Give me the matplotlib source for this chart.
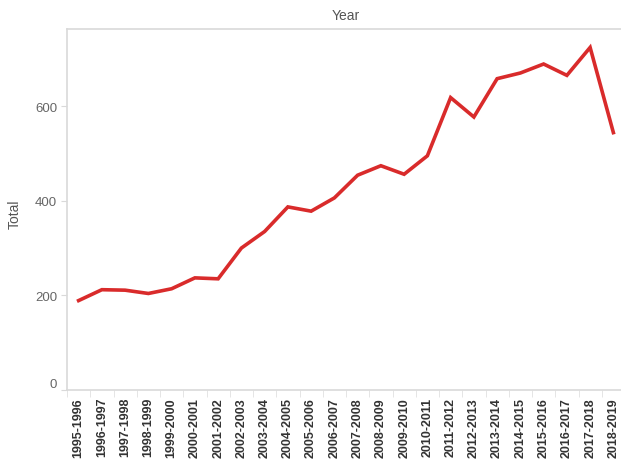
import numpy as np
import matplotlib.pyplot as plt

years = ['1995-1996', '1996-1997', '1997-1998', '1998-1999', '1999-2000', '2000-2001',
         '2001-2002', '2002-2003', '2003-2004', '2004-2005', '2005-2006', '2006-2007',
         '2007-2008', '2008-2009', '2009-2010', '2010-2011', '2011-2012', '2012-2013',
         '2013-2014', '2014-2015', '2015-2016', '2016-2017', '2017-2018', '2018-2019']
total = [189, 212, 211, 204, 214, 237, 235, 300, 335, 387, 378, 406,
         454, 474, 456, 495, 618, 577, 658, 670, 689, 665, 724, 544]

plt.rcParams['font.family'] = ['Liberation Sans', 'DejaVu Sans']

fig = plt.figure(figsize=(6.21, 4.64), dpi=100)
# axes box in pixels: left 67, right ~625 (cut off), top 30, bottom 391
ax = fig.add_axes([67 / 621, 1 - 391 / 464, 558 / 621, 361 / 464])

x = np.arange(len(years))
ax.plot(x, total, color='#d92b2b', linewidth=2.6, solid_joinstyle='miter')

ax.set_xlim(-0.5, len(years) - 0.5)
ax.set_ylim(0, 763)

ax.set_yticks([0, 200, 400, 600])
ax.tick_params(axis='y', length=4, color='#d9d9d9', labelcolor='#666666',
               labelsize=9.5, pad=3)
ax.get_yticklabels()[0].set_verticalalignment('bottom')

ax.set_xticks(x)
ax.set_xticklabels(years, rotation=90, fontweight='bold', fontsize=9, color='#333333')
ax.tick_params(axis='x', which='major', length=0, pad=5)
ax.set_xticks(np.arange(len(years) + 1) - 0.5, minor=True)
ax.tick_params(axis='x', which='minor', length=5, color='#e0e0e0')

for s in ['left', 'bottom', 'top']:
    ax.spines[s].set_color('#d9d9d9')
    ax.spines[s].set_linewidth(1.2)
ax.spines['right'].set_visible(False)

ax.set_ylabel('Total', color='#555555', fontsize=10)
ax.yaxis.set_label_coords(-45 / 558, 0.49)
fig.text(346 / 621, 1 - 16 / 464, 'Year', ha='center', va='center',
         color='#555555', fontsize=10)

fig.savefig('out.png', dpi=100)
